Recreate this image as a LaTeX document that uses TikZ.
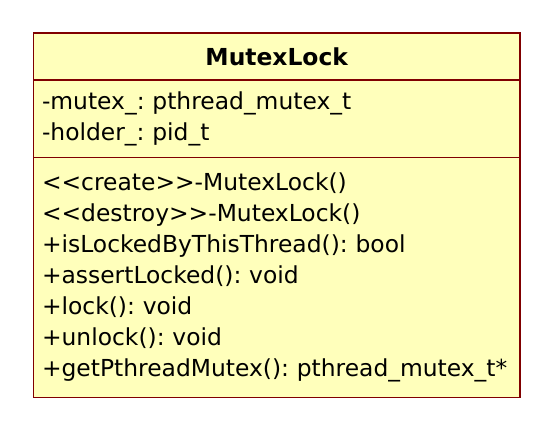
\documentclass[tikz,border=0pt]{standalone}
\usepackage{fontspec}
\setmainfont{DejaVu Sans}
\usepackage{tikz}
\usetikzlibrary{positioning}
\frenchspacing
\definecolor{umlfill}{HTML}{FFFFBB}
\definecolor{umlline}{HTML}{800000}
\tikzset{%
  classpart/.style={rectangle,draw=umlline,fill=umlfill,line width=1.2pt,minimum width=486.5pt,inner xsep=8.5pt,inner ysep=0pt,outer sep=0pt},
  members/.style={classpart,text width=469.5pt,align=left,font=\fontsize{23.4}{31}\selectfont}%
}
\begin{document}
\begin{tikzpicture}[x=1pt,y=-1pt]
      \useasboundingbox (0,0) rectangle (554,432);
      \node (head) [classpart, minimum height=47pt, anchor=north west, font=\fontsize{23.4}{27}\selectfont\bfseries] at (33.5,33) {MutexLock};
      \node (attrs) [members, minimum height=77.5pt, anchor=north west] at (head.south west)
            {-mutex\_: pthread\_mutex\_t\\-holder\_: pid\_t};
      \node (ops) [members, minimum height=240pt, anchor=north west] at (attrs.south west)
            {<{}<create>{}>-MutexLock()\\
             <{}<destroy>{}>-MutexLock()\\
             +isLockedByThisThread(): bool\\
             +assertLocked(): void\\
             +lock(): void\\
             +unlock(): void\\
             +getPthreadMutex(): pthread\_mutex\_t*};
\end{tikzpicture}
\end{document}
